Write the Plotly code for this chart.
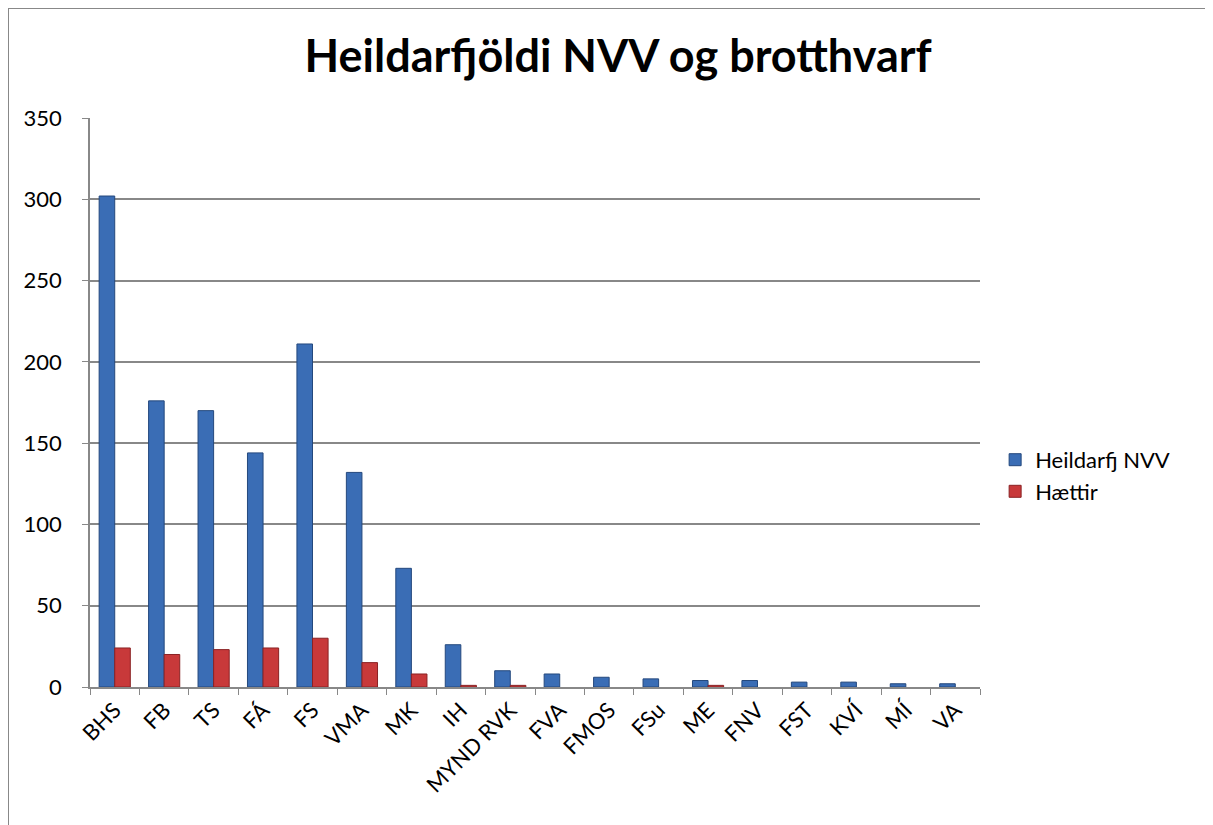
import plotly.graph_objects as go

categories = ["BHS", "FB", "TS", "FÁ", "FS", "VMA", "MK", "IH", "MYND RVK", "FVA",
              "FMOS", "FSu", "ME", "FNV", "FST", "KVÍ", "MÍ", "VA"]
heildarfj_nvv = [302, 176, 170, 144, 211, 132, 73, 26, 10, 8, 6, 5, 4, 4, 3, 3, 2, 2]
haettir = [24, 20, 23, 24, 30, 15, 8, 1, 1, 0, 0, 0, 1, 0, 0, 0, 0, 0]

FONT = "Lato, Liberation Sans, sans-serif"

L, T, W, H = 82, 110, 890, 569
FIG_W, FIG_H = 1213, 825

fig = go.Figure()
fig.add_trace(go.Bar(
    x=categories, y=heildarfj_nvv, name="Heildarfj NVV",
    marker=dict(color="#3A6DB5",
                line=dict(color="#24487D", width=[1 if v > 0 else 0 for v in heildarfj_nvv])),
))
fig.add_trace(go.Bar(
    x=categories, y=haettir, name="Hættir",
    marker=dict(color="#C8393A",
                line=dict(color="#8A2224", width=[1 if v > 0 else 0 for v in haettir])),
))

fig.update_layout(
    width=FIG_W, height=FIG_H,
    margin=dict(l=L, r=FIG_W - L - W, t=T, b=FIG_H - T - H),
    paper_bgcolor="white", plot_bgcolor="white",
    barmode="group", bargap=0.37, bargroupgap=0,
    title=dict(text="<b>Heildarfjöldi NVV og brotthvarf</b>",
               xref="container", x=0.503, xanchor="center",
               yref="container", y=1 - 48 / FIG_H, yanchor="middle",
               font=dict(family=FONT, size=45, color="black")),
    font=dict(family=FONT, size=22, color="black"),
    legend=dict(x=1.017, y=0.371, xanchor="left", yanchor="middle",
                font=dict(size=22), itemwidth=30, tracegroupgap=4),
    showlegend=True,
    xaxis=dict(
        type="category", tickangle=-45, tickfont=dict(size=22),
        showline=True, linecolor="#888888", linewidth=1.5,
        ticks="outside", tickson="boundaries", ticklen=6, tickcolor="#888888",
        showgrid=False,
    ),
    yaxis=dict(
        range=[0, 350], dtick=50, tickfont=dict(size=22),
        showline=True, linecolor="#888888", linewidth=1.5,
        ticks="outside", ticklen=6, tickcolor="#888888",
        ticklabelstandoff=16,
        showgrid=True, gridcolor="#888888", gridwidth=1.5,
        zeroline=False,
    ),
)

# outer chart border (left and top edges visible)
fig.add_shape(type="rect", xref="paper", yref="paper",
              x0=(0 - L) / W, x1=(FIG_W + 20 - L) / W,
              y0=-(FIG_H - T - H + 20) / H, y1=(T + H - 0) / H,
              line=dict(color="#888888", width=2), fillcolor="rgba(0,0,0,0)", layer="below")

fig.write_html("out.html")
